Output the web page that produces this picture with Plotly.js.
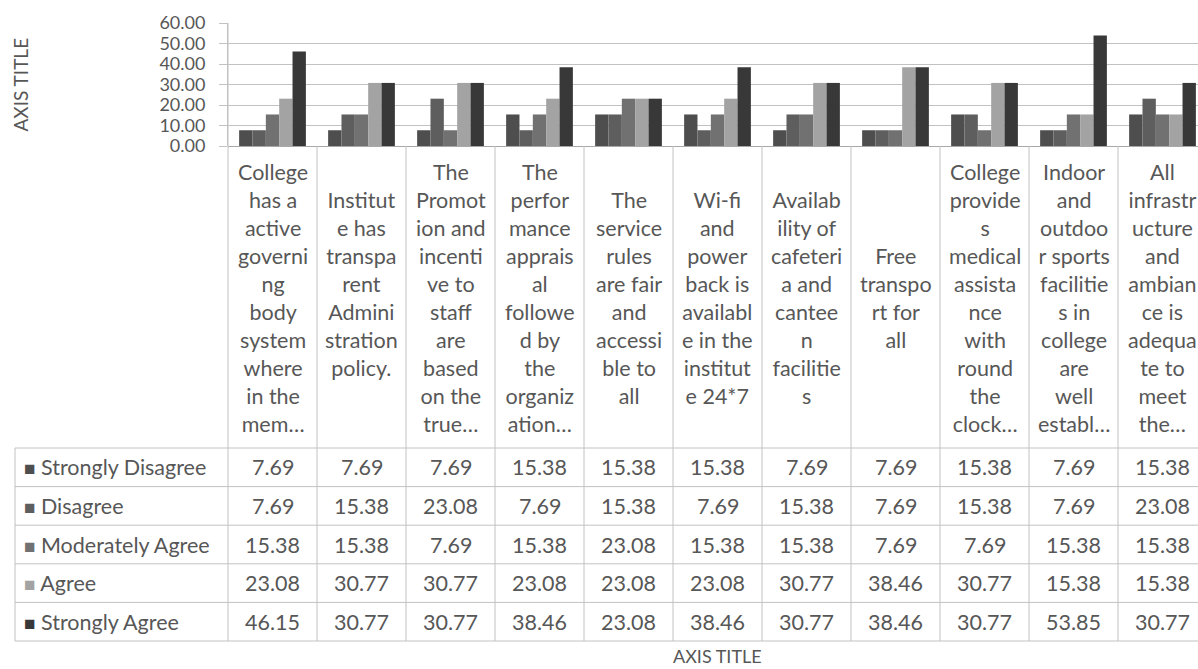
<!DOCTYPE html>
<html>
<head>
<meta charset="utf-8">
<script src="https://cdn.plot.ly/plotly-3.0.1.min.js"></script>
<style>
html,body{margin:0;padding:0;overflow:hidden;background:#fff;width:1198px;height:669px}
#chart{width:1210px;height:669px}
</style>
</head>
<body>
<div id="chart"></div>
<script>
// ---- data ----
const categoryLabels = [
  "College<br>has a<br>active<br>governi<br>ng<br>body<br>system<br>where<br>in the<br>mem…",
  "Institut<br>e has<br>transpa<br>rent<br>Admini<br>stration<br>policy.<br>&nbsp;",
  "The<br>Promot<br>ion and<br>incenti<br>ve to<br>staff<br>are<br>based<br>on the<br>true…",
  "The<br>perfor<br>mance<br>apprais<br>al<br>followe<br>d by<br>the<br>organiz<br>ation…",
  "The<br>service<br>rules<br>are fair<br>and<br>accessi<br>ble to<br>all",
  "Wi-fi<br>and<br>power<br>back is<br>availabl<br>e in the<br>institut<br>e 24*7",
  "Availab<br>ility of<br>cafeteri<br>a and<br>cantee<br>n<br>facilitie<br>s",
  "Free<br>transpo<br>rt for<br>all",
  "College<br>provide<br>s<br>medical<br>assista<br>nce<br>with<br>round<br>the<br>clock…",
  "Indoor<br>and<br>outdoo<br>r sports<br>facilitie<br>s in<br>college<br>are<br>well<br>establ…",
  "All<br>infrastr<br>ucture<br>and<br>ambian<br>ce is<br>adequa<br>te to<br>meet<br>the…"
];
const seriesNames = ["Strongly Disagree", "Disagree", "Moderately Agree", "Agree", "Strongly Agree"];
const stronglyDisagree = [7.69, 7.69, 7.69, 15.38, 15.38, 15.38, 7.69, 7.69, 15.38, 7.69, 15.38];
const disagree         = [7.69, 15.38, 23.08, 7.69, 15.38, 7.69, 15.38, 7.69, 15.38, 7.69, 23.08];
const moderatelyAgree  = [15.38, 15.38, 7.69, 15.38, 23.08, 15.38, 15.38, 7.69, 7.69, 15.38, 15.38];
const agree            = [23.08, 30.77, 30.77, 23.08, 23.08, 23.08, 30.77, 38.46, 30.77, 15.38, 15.38];
const stronglyAgree    = [46.15, 30.77, 30.77, 38.46, 23.08, 38.46, 30.77, 38.46, 30.77, 53.85, 30.77];
const yTickValues = [0, 10, 20, 30, 40, 50, 60];
const xAxisTitle = "AXIS TITLE";
const yAxisTitle = "AXIS TITLE";

// ---- styling ----
const seriesValues = [stronglyDisagree, disagree, moderatelyAgree, agree, stronglyAgree];
const seriesColors = ["#4e4e4e", "#5e5e5e", "#717171", "#a3a3a3", "#383838"];
const FONT = "Lato, 'Noto Sans', sans-serif";
const TXT = "#575757";
const LINE = "#c2c2c2";

const W = 1210, H = 669;
const plotL = 228, plotR = 1207, plotT = 23, plotB = 146;
const plotW = plotR - plotL, plotH = plotB - plotT;
const px2paperX = p => (p - plotL) / plotW;
const px2paperY = p => (plotB - p) / plotH;

const tableLeft = 15;
const labelCenterY = 298;
const tableTop = 448, tableBottom = 641;
const nRows = seriesNames.length;
const rowH = (tableBottom - tableTop) / nRows;
const nCat = categoryLabels.length;
const xIdx = categoryLabels.map((_, i) => i);

const traces = seriesNames.map((name, s) => ({
  type: "bar",
  name: name,
  x: xIdx,
  y: seriesValues[s],
  marker: { color: seriesColors[s], line: { width: 0 } },
  hoverinfo: "y+name"
}));

const annotations = [];
categoryLabels.forEach((lab, i) => {
  annotations.push({
    xref: "x", yref: "paper", x: i, y: px2paperY(labelCenterY),
    text: lab, showarrow: false, xanchor: "center", yanchor: "middle", align: "center",
    font: { family: FONT, size: 21.5, color: TXT }
  });
});
seriesNames.forEach((name, s) => {
  const cy = px2paperY(tableTop + rowH * (s + 0.5));
  annotations.push({
    xref: "paper", yref: "paper", x: px2paperX(22), y: cy,
    text: `<span style="color:${seriesColors[s]};font-size:19px">■</span> ${name}`,
    showarrow: false, xanchor: "left", yanchor: "middle", align: "left",
    font: { family: FONT, size: 21.5, color: TXT }
  });
  seriesValues[s].forEach((v, i) => {
    annotations.push({
      xref: "x", yref: "paper", x: i, y: cy,
      text: v.toFixed(2), showarrow: false, xanchor: "center", yanchor: "middle",
      font: { family: FONT, size: 21.5, color: TXT }
    });
  });
});
annotations.push({
  xref: "paper", yref: "paper", x: 0.5, y: px2paperY(656),
  text: xAxisTitle, showarrow: false, xanchor: "center", yanchor: "middle",
  font: { family: FONT, size: 18, color: TXT }
});
annotations.push({
  xref: "paper", yref: "paper", x: px2paperX(20), y: 0.5,
  text: yAxisTitle, showarrow: false, textangle: -90, xanchor: "center", yanchor: "middle",
  font: { family: FONT, size: 19, color: TXT }
});

const shapes = [];
for (let k = 0; k <= nCat; k++) {
  const xp = k / nCat;
  shapes.push({ type: "line", xref: "paper", yref: "paper", x0: xp, x1: xp,
    y0: px2paperY(tableBottom), y1: k === 0 ? 1 : 0, line: { color: LINE, width: 1 } });
}
shapes.push({ type: "line", xref: "paper", yref: "paper",
  x0: px2paperX(tableLeft), x1: px2paperX(tableLeft),
  y0: px2paperY(tableBottom), y1: px2paperY(tableTop), line: { color: LINE, width: 1 } });
for (let r = 0; r <= nRows; r++) {
  const yp = px2paperY(tableTop + rowH * r);
  shapes.push({ type: "line", xref: "paper", yref: "paper",
    x0: px2paperX(tableLeft), x1: 1, y0: yp, y1: yp, line: { color: LINE, width: 1 } });
}

const layout = {
  width: W, height: H,
  margin: { l: plotL, r: W - plotR, t: plotT, b: H - plotB, pad: 0 },
  paper_bgcolor: "#fff", plot_bgcolor: "#fff",
  barmode: "group", bargap: 0.25, bargroupgap: 0,
  showlegend: false,
  xaxis: { range: [-0.5, nCat - 0.5], showticklabels: false, showgrid: false,
    zeroline: false, showline: false, ticks: "", fixedrange: true },
  yaxis: { range: [0, 60], tickmode: "array", tickvals: yTickValues,
    ticktext: yTickValues.map(v => v.toFixed(2)),
    ticks: "outside", ticklen: 8, tickcolor: LINE, tickwidth: 1,
    showgrid: true, gridcolor: LINE, gridwidth: 1,
    showline: true, linecolor: LINE, linewidth: 1,
    zeroline: true, zerolinecolor: "#a8a8a8", zerolinewidth: 1,
    ticklabelstandoff: 10,
    tickfont: { family: FONT, size: 18, color: TXT }, fixedrange: true },
  annotations: annotations,
  shapes: shapes
};

Plotly.newPlot("chart", traces, layout, { displayModeBar: false, staticPlot: true });
</script>
</body>
</html>
